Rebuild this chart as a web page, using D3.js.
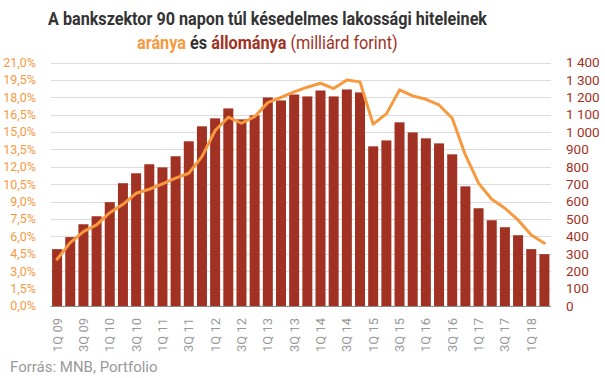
<!DOCTYPE html>
<html><head><meta charset="utf-8">
<script src="https://cdn.jsdelivr.net/npm/d3@7"></script>
<style>
body{margin:0;background:#fff;}
svg{display:block;font-family:Roboto, "Noto Sans", sans-serif;}
</style></head>
<body><svg id="c" width="605" height="378"></svg>
<script>
const quarters = ["1Q 09","2Q 09","3Q 09","4Q 09","1Q 10","2Q 10","3Q 10","4Q 10","1Q 11","2Q 11","3Q 11","4Q 11","1Q 12","2Q 12","3Q 12","4Q 12","1Q 13","2Q 13","3Q 13","4Q 13","1Q 14","2Q 14","3Q 14","4Q 14","1Q 15","2Q 15","3Q 15","4Q 15","1Q 16","2Q 16","3Q 16","4Q 16","1Q 17","2Q 17","3Q 17","4Q 17","1Q 18","2Q 18"];
const stock = [327,396,470,516,597,706,763,815,797,861,947,1033,1079,1136,1073,1096,1199,1182,1216,1205,1239,1205,1245,1228,918,952,1056,998,964,935,872,688,562,493,453,407,327,298];
const ratio = [4.03,5.46,6.41,6.99,8.05,8.77,9.72,10.07,10.53,11.02,11.45,12.88,15.13,16.28,15.76,16.33,17.54,18.0,18.47,18.87,19.21,18.75,19.5,19.33,15.68,16.57,18.64,18.12,17.83,17.34,16.19,13.03,10.59,9.21,8.43,7.42,6.13,5.41];
const leftTicks = [0,1.5,3,4.5,6,7.5,9,10.5,12,13.5,15,16.5,18,19.5,21];
const rightTicks = [0,100,200,300,400,500,600,700,800,900,1000,1100,1200,1300,1400];

const barColor = "#A13223", lineColor = "#F7993F", darkText = "#333333", grey = "#999999";
const svg = d3.select("#c");
const X0 = 50.5, X1 = 551, Y0 = 306, Y1 = 62.5;

const x = d3.scaleBand().domain(quarters).range([X0, X1]).paddingInner(0.24).paddingOuter(0.12);
const yL = d3.scaleLinear().domain([0, 21]).range([Y0, Y1]);
const yR = d3.scaleLinear().domain([0, 1400]).range([Y0, Y1]);

// gridlines
svg.append("g").selectAll("line").data(leftTicks.slice(1)).join("line")
  .attr("x1", X0).attr("x2", X1)
  .attr("y1", d => Math.round(yL(d)) + 0.5).attr("y2", d => Math.round(yL(d)) + 0.5)
  .attr("stroke", "#dcdcdc").attr("stroke-width", 1);

// bars
svg.append("g").selectAll("rect").data(stock).join("rect")
  .attr("x", (d, i) => x(quarters[i])).attr("width", x.bandwidth())
  .attr("y", d => yR(d)).attr("height", d => Y0 - yR(d))
  .attr("fill", barColor);

// baseline
svg.append("line").attr("x1", X0).attr("x2", X1).attr("y1", Y0 + 0.5).attr("y2", Y0 + 0.5)
  .attr("stroke", "#888").attr("stroke-width", 1.2);

// line
const line = d3.line().x((d, i) => x(quarters[i]) + x.bandwidth() / 2).y(d => yL(d));
svg.append("path").datum(ratio).attr("d", line).attr("fill", "none")
  .attr("stroke", lineColor).attr("stroke-width", 3).attr("stroke-linejoin", "round").attr("stroke-linecap", "round");

// left axis
const fmtPct = d => d.toFixed(1).replace(".", ",") + "%";
svg.append("g").selectAll("text").data(leftTicks).join("text")
  .attr("x", 36).attr("y", d => yL(d)).attr("dy", "0.35em").attr("text-anchor", "end")
  .attr("fill", lineColor).attr("font-size", 12.5).text(fmtPct);

// right axis
const fmtNum = d => d >= 1000 ? Math.floor(d / 1000) + " " + String(d % 1000).padStart(3, "0") : String(d);
svg.append("g").selectAll("text").data(rightTicks).join("text")
  .attr("x", 566).attr("y", d => yR(d)).attr("dy", "0.35em").attr("text-anchor", "start")
  .attr("fill", barColor).attr("font-size", 13.5).text(fmtNum);

// x labels
svg.append("g").selectAll("text").data(quarters.filter((q, i) => i % 2 === 0)).join("text")
  .attr("transform", d => `translate(${x(d) + x.bandwidth() / 2 + 4.5},318) rotate(-90)`)
  .attr("text-anchor", "end").attr("fill", grey).attr("font-size", 13).text(d => d);

// title
svg.append("text").attr("x", 267.5).attr("y", 25).attr("text-anchor", "middle")
  .attr("font-size", 18).attr("font-weight", "bold").attr("fill", darkText)
  .attr("textLength", 439).attr("lengthAdjust", "spacingAndGlyphs")
  .text("A bankszektor 90 napon túl késedelmes lakossági hiteleinek");
const g2 = svg.append("g");
const t2 = g2.append("text").attr("x", 0).attr("y", 0).attr("text-anchor", "start").attr("font-size", 18);
t2.append("tspan").attr("font-weight", "bold").attr("fill", lineColor).text("aránya");
t2.append("tspan").attr("font-weight", "bold").attr("fill", darkText).text(" és ");
t2.append("tspan").attr("font-weight", "bold").attr("fill", barColor).text("állománya");
t2.append("tspan").attr("fill", barColor).text(" (milliárd forint)");
const w2 = t2.node().getComputedTextLength();
const k2 = 261 / w2;
g2.attr("transform", `translate(${267.5 - 130.5},49) scale(${k2},1)`);

// source
svg.append("text").attr("x", 10).attr("y", 372).attr("fill", grey).attr("font-size", 15)
  .text("Forrás: MNB, Portfolio");
</script></body></html>
